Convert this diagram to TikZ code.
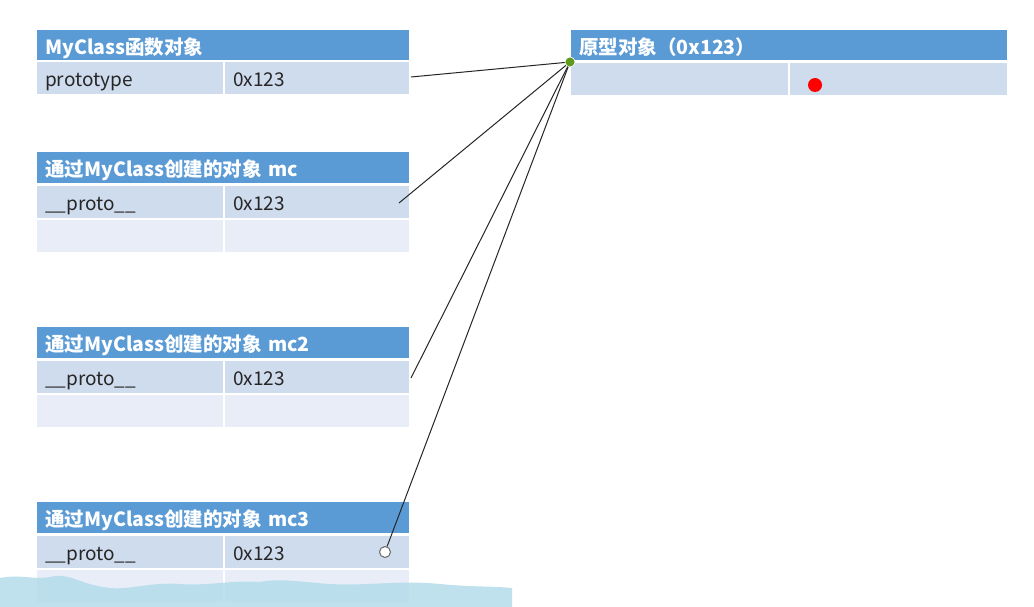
\documentclass[tikz,border=0pt]{standalone}
\usepackage{fontspec}
\newfontfamily\cjk{Noto Sans CJK SC}
\definecolor{hdrblue}{HTML}{5B9BD5}
\definecolor{rowa}{HTML}{CFDCEE}
\definecolor{rowb}{HTML}{E8EDF7}
\definecolor{dotgreen}{HTML}{5E9A1C}
\definecolor{bandblue}{HTML}{B3DCEA}
\begin{document}
\begin{tikzpicture}[x=1pt,y=-1pt,
  hdr/.style={fill=hdrblue, text=white, anchor=north west, inner xsep=8pt, inner ysep=0pt,
    font=\cjk\bfseries\fontsize{19.5}{22}\selectfont, align=left, text height=18pt, text depth=0pt},
  cell/.style={anchor=north west, inner xsep=8pt, inner ysep=0pt, text=black!85,
    font=\cjk\fontsize{19}{22}\selectfont, align=left, minimum height=32pt,
    text height=17pt, text depth=0pt},
  ca/.style={cell, fill=rowa},
  cb/.style={cell, fill=rowb},
  link/.style={draw=black!85, line width=1pt}]
\useasboundingbox (0,0) rectangle (1034,607);
\fill[white] (0,0) rectangle (1034,607);
% MyClass function object
\node[hdr, text width=356pt, minimum height=30pt] (t1h) at (37,30) {MyClass函数对象};
\node[ca, text width=170pt] (t1k) at (37,62) {prototype};
\node[ca, text width=168pt] (t1v) at (225,62) {0x123};
% mc objects
\foreach \dy/\nm/\lbl in {0/a/mc, 175/b/mc2, 350/c/mc3}{
  \node[hdr, text width=356pt, minimum height=31pt] (\nm h) at (37,152+\dy) {通过MyClass创建的对象 \lbl};
  \node[ca, text width=170pt] (\nm k) at (37,186+\dy) {\_\_proto\_\_};
  \node[ca, text width=168pt] (\nm v) at (225,186+\dy) {0x123};
  \node[cb, text width=170pt] (\nm e) at (37,220+\dy) {};
  \node[cb, text width=168pt] (\nm f) at (225,220+\dy) {};
}
% prototype object
\node[hdr, text width=420pt, minimum height=30pt] (ph) at (571,30) {原型对象（0x123）};
\node[ca, text width=201pt] (pk) at (571,63) {};
\node[ca, text width=201pt] (pv) at (790,63) {};
% red dot
\node[circle, fill=red, inner sep=0pt, minimum size=14pt] (red) at (815,85) {};
% connectors
\coordinate (e1) at (411,77);
\coordinate (e2) at (399,203);
\coordinate (e3) at (411,378);
\node[circle, draw=black!60, fill=white, line width=1pt, inner sep=0pt, minimum size=11pt] (e4) at (385,552) {};
\node[circle, fill=dotgreen, draw=white, line width=0.6pt, inner sep=0pt, minimum size=10pt] (g) at (570,62) {};
\draw[link] (e1) -- (g.center);
\draw[link] (e2) -- (g.center);
\draw[link] (e3) -- (g.center);
\draw[link] (e4) -- (g.center);
\node[circle, fill=dotgreen, draw=white, line width=0.6pt, inner sep=0pt, minimum size=10pt] at (g) {};
% bottom band
\fill[bandblue, opacity=0.85] (0,607) -- (0,578) .. controls (20,574) and (35,580) .. (50,577)
  .. controls (70,572) and (80,585) .. (110,588) .. controls (130,590) and (150,582) .. (180,584)
  .. controls (210,586) and (230,580) .. (260,582) .. controls (280,578) and (300,582) .. (330,584)
  .. controls (370,586) and (400,580) .. (440,584) .. controls (470,587) and (490,586) .. (512,588)
  -- (512,607) -- cycle;
\end{tikzpicture}
\end{document}
